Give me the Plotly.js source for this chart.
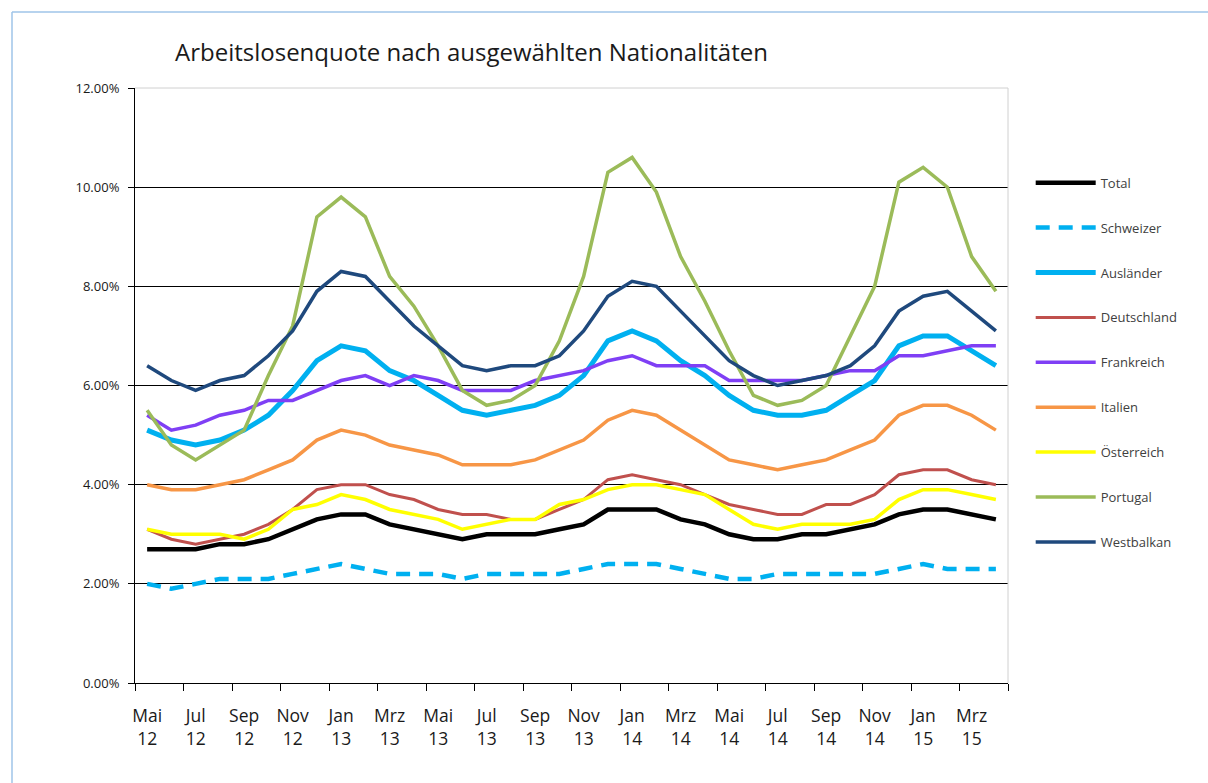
<!DOCTYPE html>
<html>
<head>
<meta charset="utf-8">
<script src="https://cdn.plot.ly/plotly-3.0.1.min.js"></script>
<style>html,body{margin:0;padding:0;background:#fff;}#chart{width:1208px;height:783px;}</style>
</head>
<body>
<div id="chart"></div>
<script>
const months = ['Mai 12','Jun 12','Jul 12','Aug 12','Sep 12','Okt 12','Nov 12','Dez 12',
  'Jan 13','Feb 13','Mrz 13','Apr 13','Mai 13','Jun 13','Jul 13','Aug 13','Sep 13','Okt 13','Nov 13','Dez 13',
  'Jan 14','Feb 14','Mrz 14','Apr 14','Mai 14','Jun 14','Jul 14','Aug 14','Sep 14','Okt 14','Nov 14','Dez 14',
  'Jan 15','Feb 15','Mrz 15','Apr 15'];

const total       = [2.7,2.7,2.7,2.8,2.8,2.9,3.1,3.3,3.4,3.4,3.2,3.1,3.0,2.9,3.0,3.0,3.0,3.1,3.2,3.5,3.5,3.5,3.3,3.2,3.0,2.9,2.9,3.0,3.0,3.1,3.2,3.4,3.5,3.5,3.4,3.3];
const schweizer   = [2.0,1.9,2.0,2.1,2.1,2.1,2.2,2.3,2.4,2.3,2.2,2.2,2.2,2.1,2.2,2.2,2.2,2.2,2.3,2.4,2.4,2.4,2.3,2.2,2.1,2.1,2.2,2.2,2.2,2.2,2.2,2.3,2.4,2.3,2.3,2.3];
const auslaender  = [5.1,4.9,4.8,4.9,5.1,5.4,5.9,6.5,6.8,6.7,6.3,6.1,5.8,5.5,5.4,5.5,5.6,5.8,6.2,6.9,7.1,6.9,6.5,6.2,5.8,5.5,5.4,5.4,5.5,5.8,6.1,6.8,7.0,7.0,6.7,6.4];
const deutschland = [3.1,2.9,2.8,2.9,3.0,3.2,3.5,3.9,4.0,4.0,3.8,3.7,3.5,3.4,3.4,3.3,3.3,3.5,3.7,4.1,4.2,4.1,4.0,3.8,3.6,3.5,3.4,3.4,3.6,3.6,3.8,4.2,4.3,4.3,4.1,4.0];
const frankreich  = [5.4,5.1,5.2,5.4,5.5,5.7,5.7,5.9,6.1,6.2,6.0,6.2,6.1,5.9,5.9,5.9,6.1,6.2,6.3,6.5,6.6,6.4,6.4,6.4,6.1,6.1,6.1,6.1,6.2,6.3,6.3,6.6,6.6,6.7,6.8,6.8];
const italien     = [4.0,3.9,3.9,4.0,4.1,4.3,4.5,4.9,5.1,5.0,4.8,4.7,4.6,4.4,4.4,4.4,4.5,4.7,4.9,5.3,5.5,5.4,5.1,4.8,4.5,4.4,4.3,4.4,4.5,4.7,4.9,5.4,5.6,5.6,5.4,5.1];
const oesterreich = [3.1,3.0,3.0,3.0,2.9,3.1,3.5,3.6,3.8,3.7,3.5,3.4,3.3,3.1,3.2,3.3,3.3,3.6,3.7,3.9,4.0,4.0,3.9,3.8,3.5,3.2,3.1,3.2,3.2,3.2,3.3,3.7,3.9,3.9,3.8,3.7];
const portugal    = [5.5,4.8,4.5,4.8,5.1,6.2,7.2,9.4,9.8,9.4,8.2,7.6,6.8,5.9,5.6,5.7,6.0,6.9,8.2,10.3,10.6,9.9,8.6,7.7,6.7,5.8,5.6,5.7,6.0,7.0,8.0,10.1,10.4,10.0,8.6,7.9];
const westbalkan  = [6.4,6.1,5.9,6.1,6.2,6.6,7.1,7.9,8.3,8.2,7.7,7.2,6.8,6.4,6.3,6.4,6.4,6.6,7.1,7.8,8.1,8.0,7.5,7.0,6.5,6.2,6.0,6.1,6.2,6.4,6.8,7.5,7.8,7.9,7.5,7.1];

const seriesNames = ['Total','Schweizer','Ausländer','Deutschland','Frankreich','Italien','Österreich','Portugal','Westbalkan'];
const seriesData  = [total, schweizer, auslaender, deutschland, frankreich, italien, oesterreich, portugal, westbalkan];
const seriesColors = ['#000000','#00b0f0','#00b0f0','#c0504d','#7f3ff5','#f79646','#ffff00','#9bbb59','#1f497d'];
const seriesWidths = [4.5,4.5,5,3,3.5,3.5,3.5,3.5,3.5];
const seriesDash   = ['solid','14px,9px','solid','solid','solid','solid','solid','solid','solid'];

const yTicks = [0,2,4,6,8,10,12];
const yTickText = ['0.00%','2.00%','4.00%','6.00%','8.00%','10.00%','12.00%'];
const yGrid  = [2,4,6,8,10];

const xIdx = months.map((m, i) => i);
const tickIdx = xIdx.filter(i => i % 2 === 0);
const tickText = tickIdx.map(i => months[i].replace(' ', '<br>'));

const font = '"Segoe UI", "Open Sans", "Noto Sans", sans-serif';

const traces = seriesNames.map((name, k) => ({
  type: 'scatter', mode: 'lines', name: name,
  x: xIdx, y: seriesData[k],
  legendgroup: name,
  line: {color: seriesColors[k], width: seriesWidths[k], dash: seriesDash[k]},
  hoverinfo: 'skip'
}));

const layout = {
  width: 1208, height: 783,
  margin: {l: 135, r: 200, t: 88, b: 100},
  paper_bgcolor: '#ffffff', plot_bgcolor: '#ffffff',
  font: {family: font, color: '#1a1a1a'},
  title: {
    text: 'Arbeitslosenquote nach ausgewählten Nationalitäten',
    font: {family: font, size: 24, color: '#1a1a1a'},
    xref: 'container', yref: 'container',
    x: 175/1208, xanchor: 'left', y: 1 - 53/783, yanchor: 'middle'
  },
  showlegend: true,
  legend: {
    x: 1.026, xanchor: 'left', y: 0.866, yanchor: 'top',
    font: {family: font, size: 13, color: '#404040'},
    tracegroupgap: 25, itemwidth: 60, bgcolor: 'rgba(0,0,0,0)'
  },
  xaxis: {
    range: [-0.5, 35.5], tickmode: 'array', tickvals: tickIdx, ticktext: tickText,
    ticks: '', showline: true, linecolor: '#000', linewidth: 1,
    showgrid: false, zeroline: false,
    tickfont: {family: font, size: 17.5, color: '#1a1a1a'},
    ticklabelstandoff: 17,
    minor: {tick0: -0.5, dtick: 2, ticks: 'outside', ticklen: 7, tickcolor: '#000', tickwidth: 1, showgrid: false}
  },
  yaxis: {
    range: [0, 12], tickmode: 'array', tickvals: yTicks, ticktext: yTickText,
    ticks: 'outside', ticklen: 6, tickcolor: '#000',
    showline: true, linecolor: '#000', linewidth: 1,
    showgrid: false, zeroline: false,
    ticklabelstandoff: 6,
    tickfont: {family: font, size: 13, color: '#1a1a1a'}
  },
  yaxis2: {
    overlaying: 'y', anchor: 'x', side: 'left',
    range: [0, 12], tickmode: 'array', tickvals: yGrid,
    showgrid: true, gridcolor: '#000', gridwidth: 1,
    showticklabels: false, ticks: '', showline: false, zeroline: false
  },
  shapes: [
    {type: 'line', xref: 'paper', yref: 'paper', x0: 0, x1: 1, y0: 1, y1: 1, line: {color: '#d0d0d0', width: 1}},
    {type: 'line', xref: 'paper', yref: 'paper', x0: 1, x1: 1, y0: 0, y1: 1, line: {color: '#d0d0d0', width: 1}},
    {type: 'line', xref: 'paper', yref: 'paper', x0: -123/873, x1: 1073/873, y0: 671/595, y1: 671/595, line: {color: '#9fc5e8', width: 1.5}},
    {type: 'line', xref: 'paper', yref: 'paper', x0: -123/873, x1: -123/873, y0: 671/595, y1: -100/595, line: {color: '#9fc5e8', width: 1.5}}
  ]
};

// invisible trace so the grid axis exists
traces.push({type: 'scatter', mode: 'lines', x: [0], y: [0], yaxis: 'y2', showlegend: false, hoverinfo: 'skip', line: {width: 0}, opacity: 0});

Plotly.newPlot('chart', traces, layout, {displayModeBar: false, staticPlot: true});
</script>
</body>
</html>
